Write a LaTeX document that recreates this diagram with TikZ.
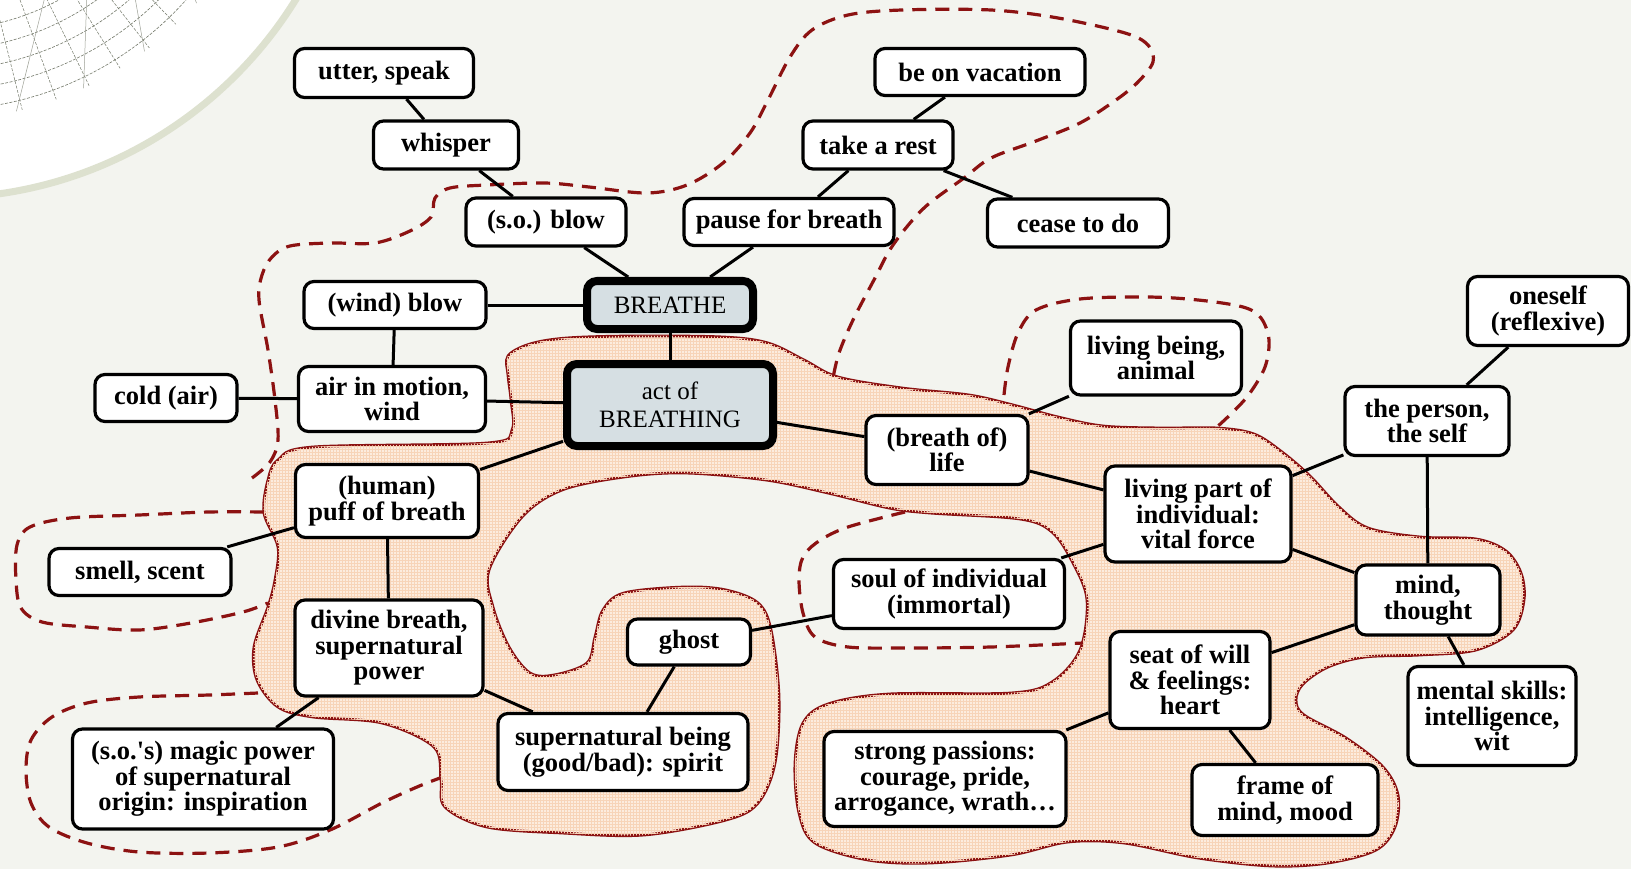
\documentclass[tikz,border=0pt]{standalone}
\usepackage{fontspec}
\setmainfont{Liberation Serif}
\usetikzlibrary{patterns}

\definecolor{bgcol}{RGB}{243,244,239}
\definecolor{rimcol}{RGB}{221,225,207}
\definecolor{netcol}{RGB}{115,120,105}
\definecolor{maroon}{RGB}{140,18,18}
\definecolor{peach}{RGB}{252,236,222}
\definecolor{peachgrid}{RGB}{247,212,184}
\definecolor{corefill}{RGB}{214,223,227}

\tikzset{
  concept/.style={draw=black, line width=3.2pt, rounded corners=10pt, fill=white,
    align=center, inner sep=0pt, font=\bfseries\fontsize{26.5}{25.5}\selectfont},
  core/.style={concept, line width=8pt, fill=corefill, font=\fontsize{25}{28}\selectfont},
  sz/.style 2 args={minimum width=#1pt, minimum height=#2pt},
  link/.style={line width=3pt},
  zone/.style={draw=maroon, line width=2.8pt},
  vague/.style={maroon, line width=3.2pt, dash pattern=on 14pt off 9pt},
}

\begin{document}
\begin{tikzpicture}[x=1pt,y=-1pt]
\useasboundingbox (0,0) rectangle (1631,869);
\fill[bgcol] (0,0) rectangle (1631,869);

% corner ornament
\fill[white] (-60,-220) circle (418);
\draw[rimcol, line width=7pt] (-60,-220) circle (418);
\begin{scope}
\clip (-60,-220) circle (340);
\foreach \r in {250,270,...,340}
  \draw[netcol, line width=0.6pt, dash pattern=on 3pt off 1.5pt] (-60,-220) circle (\r);
\foreach \a in {-20,-14,...,110}
  \draw[netcol, line width=0.5pt, dash pattern=on 3pt off 1.5pt] (-60,-220) -- ++(\a:360);
\foreach \a in {-20,-8,...,110}
  \draw[netcol!70, line width=0.5pt] (-60,-220) ++(\a:240) -- ++(\a+40:140);
\end{scope}

% solid zone
\path[fill=peach, postaction={pattern=grid, pattern color=peachgrid}, zone]
  plot[smooth cycle, tension=0.55] coordinates {
  (508,356) (530,344) (567,338) (634,336) (723,337) (768,343) (804,360) (838,377)
  (902,388) (969,395) (1013,405) (1058,417) (1103,426) (1161,428) (1217,428)
  (1254,434) (1282,452) (1310,476) (1339,507) (1368,528) (1420,537) (1476,539)
  (1506,551) (1521,573) (1524,600) (1513,630) (1476,650) (1420,655) (1365,657)
  (1328,667) (1303,684) (1296,700) (1304,715) (1346,738) (1383,767) (1398,795)
  (1395,827) (1376,850) (1328,863) (1272,866) (1198,858) (1124,843) (1068,842)
  (1011,855) (930,863) (868,860) (815,843) (799,813) (795,763) (803,723) (828,704)
  (889,694) (1011,693) (1052,682) (1080,650) (1087,600) (1073,563) (1052,532)
  (1020,519) (930,513) (889,508) (828,493) (766,480) (685,473) (624,477) (562,490)
  (522,517) (489,570) (493,607) (509,647) (530,673) (554,675) (587,663) (595,637)
  (603,610) (624,593) (685,587) (726,590) (758,603) (771,630) (779,697) (775,763)
  (758,803) (726,820) (644,835) (562,833) (487,827) (445,807) (441,780) (434,747)
  (382,723) (313,717) (278,707) (257,680) (254,647) (268,607) (275,580) (278,547)
  (264,513) (268,480) (278,460) (313,447) (487,443) (512,430) (511,400) (508,375)};

% dashed zones
\draw[vague] plot[smooth, tension=0.55] coordinates {
  (252,478) (270,462) (278,440) (275,400) (268,350) (259,300) (262,275) (272,257)
  (290,246) (330,243) (375,243) (410,231) (431,217) (435,198) (450,188) (487,185)
  (545,183) (589,187) (647,193) (687,185) (723,163) (750,133) (768,100) (790,57)
  (812,30) (848,15) (902,10) (991,10) (1058,18) (1125,33) (1148,45) (1153,62)
  (1138,82) (1116,100) (1080,123) (1036,141) (991,158) (964,178) (924,208)
  (893,245) (875,278) (853,320) (839,353) (833,378)};
\draw[vague] plot[smooth, tension=0.55] coordinates {
  (264,512) (209,512) (139,515) (70,518) (30,527) (17,545) (16,580) (21,608)
  (42,622) (87,627) (139,630) (191,623) (243,612) (268,603)};
\draw[vague] plot[smooth, tension=0.55] coordinates {
  (258,693) (209,695) (139,697) (87,703) (52,717) (31,740) (26,770) (31,803)
  (49,827) (87,843) (139,852) (209,853) (278,847) (330,830) (382,803) (417,787)
  (440,778)};
\draw[vague] plot[smooth, tension=0.55] coordinates {
  (1004,395) (1008,367) (1018,333) (1036,310) (1080,299) (1147,297) (1198,300)
  (1243,307) (1261,318) (1269,340) (1265,367) (1250,393) (1235,410) (1217,427)};
\draw[vague] plot[smooth, tension=0.55] coordinates {
  (905,512) (848,527) (819,541) (803,557) (799,580) (803,613) (815,637) (848,647)
  (909,648) (991,647) (1083,643)};

% concepts
\node[core, sz={166}{48}] (breathe) at (670,305) {BREATHE};
\node[core, sz={206}{82}] (act) at (670,405) {act of\\BREATHING};

\node[concept, sz={179}{49}] (utter) at (384,73) {utter, speak};
\node[concept, sz={145}{48}] (whisper) at (446,145) {whisper};
\node[concept, sz={160}{48}] (soblow) at (546,222) {(s.o.) blow};
\node[concept, sz={182}{47}] (windblow) at (395,305) {(wind) blow};
\node[concept, sz={187}{65}] (air) at (392,399) {air in motion,\\wind};
\node[concept, sz={142}{47}] (cold) at (166,398) {cold (air)};
\node[concept, sz={183}{73}] (puff) at (387,501) {(human)\\puff of breath};
\node[concept, sz={182}{47}] (smell) at (140,572) {smell, scent};
\node[concept, sz={188}{96}] (divine) at (389,648) {divine breath,\\supernatural\\power};
\node[concept, sz={261}{100}] (magic) at (203,779) {(s.o.\textquotesingle s) magic power\\of supernatural\\origin: inspiration};
\node[concept, sz={123}{46}] (ghost) at (689,642) {ghost};
\node[concept, sz={250}{77}] (spirit) at (623,752) {supernatural being\\(good/bad): spirit};
\node[concept, sz={210}{47}] (pause) at (789,222) {pause for breath};
\node[concept, sz={150}{48}] (rest) at (878,145) {take a rest};
\node[concept, sz={210}{47}] (vacation) at (980,72) {be on vacation};
\node[concept, sz={181}{48}] (cease) at (1078,223) {cease to do};
\node[concept, sz={171}{74}] (animal) at (1156,358) {living being,\\animal};
\node[concept, sz={162}{69}] (life) at (947,450) {(breath of)\\life};
\node[concept, sz={186}{96}] (vital) at (1198,514) {living part of\\individual:\\vital force};
\node[concept, sz={161}{69}] (oneself) at (1548,311) {oneself\\(reflexive)};
\node[concept, sz={164}{69}] (person) at (1427,421) {the person,\\the self};
\node[concept, sz={231}{69}] (soul) at (949,594) {soul of individual\\(immortal)};
\node[concept, sz={144}{70}] (mind) at (1428,600) {mind,\\thought};
\node[concept, sz={160}{97}] (heart) at (1190,680) {seat of will\\\&\ feelings:\\heart};
\node[concept, sz={168}{99}] (skills) at (1492,716) {mental skills:\\intelligence,\\wit};
\node[concept, sz={242}{95}] (passions) at (945,779) {strong passions:\\courage, pride,\\arrogance, wrath\dots};
\node[concept, sz={186}{71}] (mood) at (1285,800) {frame of\\mind, mood};

% links
\draw[link] (utter) -- (whisper);
\draw[link] (whisper) -- (soblow);
\draw[link] (soblow) -- (breathe);
\draw[link] (windblow) -- (breathe);
\draw[link] (pause) -- (breathe);
\draw[link] (rest) -- (pause);
\draw[link] (vacation) -- (rest);
\draw[link] (rest) -- (cease);
\draw[link] (breathe) -- (act);
\draw[link] (windblow) -- (air);
\draw[link] (cold) -- (air);
\draw[link] (air) -- (act);
\draw[link] (act) -- (puff);
\draw[link] (act) -- (life);
\draw[link] (smell) -- (puff);
\draw[link] (puff) -- (divine);
\draw[link] (divine) -- (magic);
\draw[link] (divine) -- (spirit);
\draw[link] (ghost) -- (spirit);
\draw[link] (ghost) -- (soul);
\draw[link] (soul) -- (vital);
\draw[link] (life) -- (animal);
\draw[link] (life) -- (vital);
\draw[link] (vital) -- (person);
\draw[link] (vital) -- (mind);
\draw[link] (oneself) -- (person);
\draw[link] (person) -- (mind);
\draw[link] (mind) -- (heart);
\draw[link] (mind) -- (skills);
\draw[link] (heart) -- (passions);
\draw[link] (heart) -- (mood);
\end{tikzpicture}
\end{document}
